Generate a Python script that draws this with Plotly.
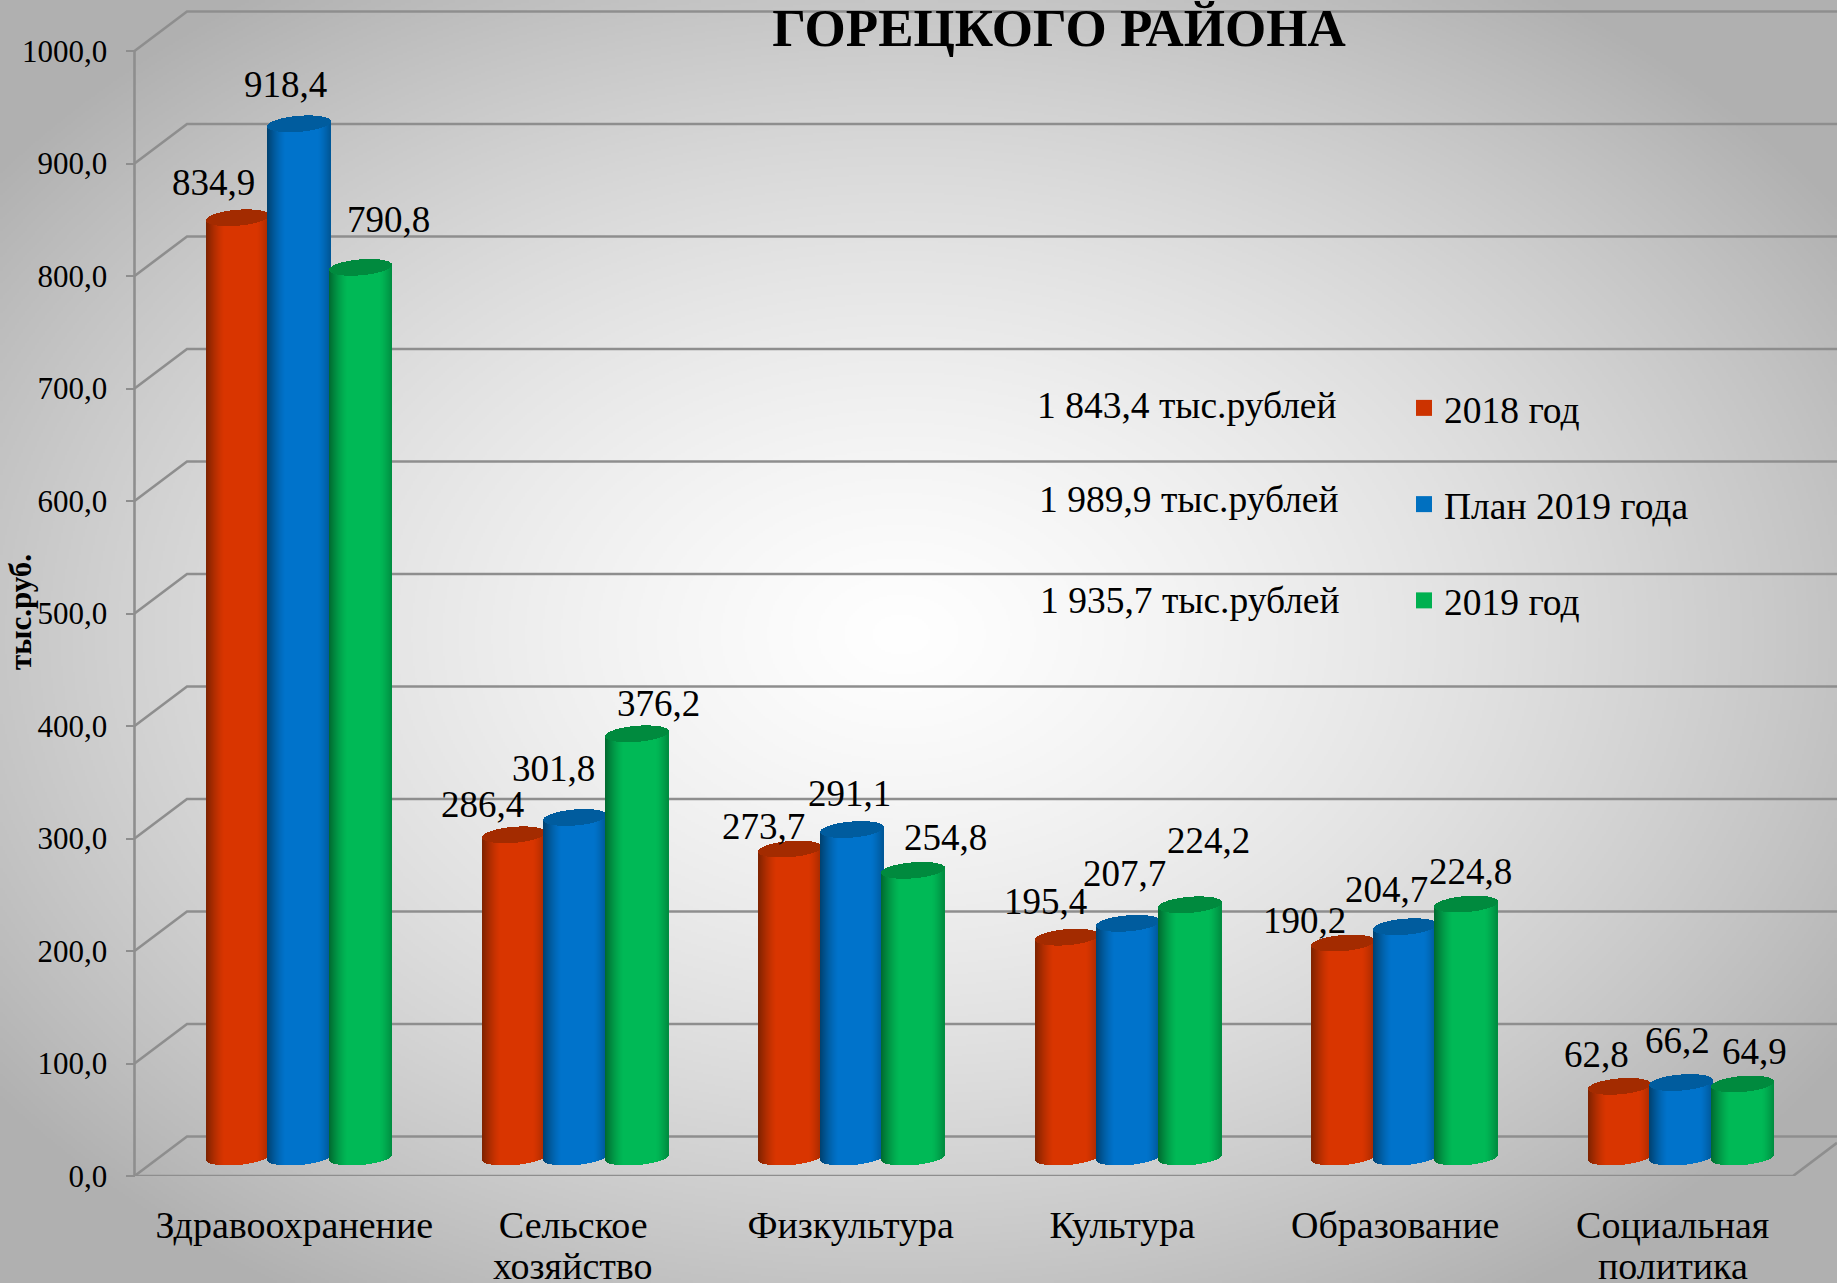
import base64, struct, zlib
import numpy as np
import plotly.graph_objects as go

# ---------- data ----------
CATEGORIES = ["Здравоохранение", "Сельское", "Физкультура", "Культура", "Образование", "Социальная"]
CATEGORY_SECOND_LINES = ["", "хозяйство", "", "", "", "политика"]
SERIES_NAMES = ["2018 год", "План 2019 года", "2019 год"]
VALUES_2018 = [834.9, 286.4, 273.7, 195.4, 190.2, 62.8]
VALUES_PLAN = [918.4, 301.8, 291.1, 207.7, 204.7, 66.2]
VALUES_2019 = [790.8, 376.2, 254.8, 224.2, 224.8, 64.9]
TOTALS = ["1 843,4 тыс.рублей", "1 989,9 тыс.рублей", "1 935,7 тыс.рублей"]
TICK_VALUES = [0, 100, 200, 300, 400, 500, 600, 700, 800, 900, 1000]
TICK_LABELS = ["0,0", "100,0", "200,0", "300,0", "400,0", "500,0", "600,0", "700,0", "800,0", "900,0", "1000,0"]
TITLE = "ГОРЕЦКОГО РАЙОНА"
Y_TITLE = "тыс.руб."

# ---------- styles / layout constants ----------
W, H = 1837, 1283
FONT = "Liberation Serif"
MAIN = ["#D93500", "#0073CB", "#00B956"]
EDGE = ["#7C2200", "#00406E", "#00682F"]
CAP = ["#A32B00", "#005C9E", "#008A3E"]
LEGEND_COL = ["#CC3300", "#0070C0", "#00B050"]
GRID = "#8E8E8E"
PX_PER_UNIT = 1.125
FLOOR_PX = 1176
GROUP0_PX, GROUP_STEP_PX = 299.0, 276.4
BAR_W_PX, BAR_STEP_PX = 63.0, 61.5
AXIS_X_PX, DEPTH_X, DEPTH_Y, FRONT_END_PX = 134.5, 52.5, 39.5, 1793
PLANE_SHIFT_PX = 19.0
NSTRIP = 63
LABEL_SIZE, TICK_SIZE, CAT_SIZE, NOTE_SIZE = 37, 31, 38, 37.5
# centre of every value label, in page pixels
LABEL_PX = [
    [(213, 182), (285, 84), (388, 219)],
    [(482, 804), (553, 769), (658, 703)],
    [(763, 826), (849, 794), (945, 837)],
    [(1045, 901), (1124, 873), (1208, 840)],
    [(1304, 920), (1386, 890), (1470, 871)],
    [(1596, 1054), (1677, 1040), (1754, 1051)],
]
TOTAL_PX = [(1187, 405), (1189, 500), (1190, 600)]
CAT_TICKS = [-0.017, -0.008, -0.004, -0.021, -0.034, -0.03]
SECOND_LINE_Y_PX = 1266


def background():
    w, h = W // 2, H // 2
    yy, xx = np.mgrid[0:h, 0:w]
    r = np.hypot((xx * 2 - 900) / 918.0, (yy * 2 - 633) / 641.0)
    g = np.clip(255 - 30 * r - 28 * r ** 2, 176, 255).astype(np.uint8)
    raw = b"".join(b"\x00" + g[i].tobytes() for i in range(h))

    def chunk(t, d):
        return struct.pack(">I", len(d)) + t + d + struct.pack(">I", zlib.crc32(t + d))

    png = b"\x89PNG\r\n\x1a\n" + chunk(b"IHDR", struct.pack(">IIBBBBB", w, h, 8, 0, 0, 0, 0)) + \
        chunk(b"IDAT", zlib.compress(raw, 9)) + chunk(b"IEND", b"")
    return "data:image/png;base64," + base64.b64encode(png).decode()


def mix(a, b, s):
    ca = [int(a[i:i + 2], 16) for i in (1, 3, 5)]
    cb = [int(b[i:i + 2], 16) for i in (1, 3, 5)]
    return "rgb(%d,%d,%d)" % tuple(round(x + (y - x) * s) for x, y in zip(ca, cb))


fig = go.Figure()
xpos = list(range(len(CATEGORIES)))
unit = 1.0 / GROUP_STEP_PX
SERIES = [VALUES_2018, VALUES_PLAN, VALUES_2019]

for s, vals in enumerate(SERIES):
    centre = (s - 1) * BAR_STEP_PX * unit
    v = np.array(vals)
    # plain bar carrying the value itself; the cylinder shading is laid over it
    inner = BAR_W_PX - 10
    fig.add_bar(x=xpos, y=vals, name=SERIES_NAMES[s], width=inner * unit, offset=centre - inner * unit / 2,
                marker=dict(color=MAIN[s], line_width=0), yaxis="y2", showlegend=False,
                hovertemplate="%{y}<extra>" + SERIES_NAMES[s] + "</extra>")
    ts = -1 + (2 * np.arange(NSTRIP) + 1) / NSTRIP
    for layer in ("body", "cap"):
        for t in ts:
            c = np.sqrt(1 - t ** 2)
            tilt = 2.5 * t / PX_PER_UNIT
            off = centre + t * BAR_W_PX / 2 * unit - BAR_W_PX / NSTRIP * unit / 2
            if layer == "body":
                base = np.full(v.shape, (-0.5 + 2.5 * t - 7.5 * c) / PX_PER_UNIT)
                top = v + tilt
                shade = max(0.0, (abs(t - 0.1) - 0.5) / 0.6) ** 1.4
                col = mix(MAIN[s], EDGE[s], min(shade, 1))
            else:
                base = v + tilt - 8 * c / PX_PER_UNIT
                top = v + tilt + 8 * c / PX_PER_UNIT
                col = CAP[s]
            fig.add_bar(x=xpos, y=(top - base).tolist(), base=base.tolist(), width=BAR_W_PX / NSTRIP * unit, offset=off,
                        marker=dict(color=col, line_width=0), yaxis="y2", showlegend=False, hoverinfo="skip")

# legend entries
for s, name in enumerate(SERIES_NAMES):
    fig.add_scatter(x=[-50], y=[-50], mode="markers", name=name, legendgroup=name,
                    marker=dict(symbol="square", size=20, color=LEGEND_COL[s]), hoverinfo="skip")

# perspective grid
shapes = []
xp = lambda px: px / W
dunit = DEPTH_Y / PX_PER_UNIT
for tv in TICK_VALUES:
    path = "M %.5f,%.3f L %.5f,%.3f L 1.0,%.3f" % (xp(AXIS_X_PX), tv, xp(AXIS_X_PX + DEPTH_X), tv + dunit, tv + dunit)
    shapes.append(dict(type="path", path=path, xref="paper", yref="y", layer="below", line=dict(color=GRID, width=2.6)))
shapes.append(dict(type="line", xref="paper", yref="y", x0=xp(AXIS_X_PX), x1=xp(AXIS_X_PX), y0=0, y1=1000,
                   layer="below", line=dict(color=GRID, width=2.6)))
shapes.append(dict(type="path", xref="paper", yref="y", layer="below", line=dict(color=GRID, width=2.6),
                   path="M %.5f,0 L %.5f,0 L 1.0,%.3f" % (xp(AXIS_X_PX), xp(FRONT_END_PX),
                                                          (W - FRONT_END_PX) / DEPTH_X * dunit)))

# labels
ann = []
for i in xpos:
    for s, vals in enumerate(SERIES):
        cx = GROUP0_PX + i * GROUP_STEP_PX + (s - 1) * BAR_STEP_PX
        top = FLOOR_PX - PLANE_SHIFT_PX - vals[i] * PX_PER_UNIT
        lx, ly = LABEL_PX[i][s]
        ann.append(dict(x=i + (s - 1) * BAR_STEP_PX * unit, y=vals[i], xref="x", yref="y2", xshift=lx - cx, yshift=top - ly,
                        text=f"{vals[i]:.1f}".replace(".", ","), showarrow=False, xanchor="center", yanchor="middle",
                        font=dict(family=FONT, size=LABEL_SIZE, color="black")))
    if CATEGORY_SECOND_LINES[i]:
        ann.append(dict(x=i + CAT_TICKS[i], y=1 - SECOND_LINE_Y_PX / FLOOR_PX, xref="x", yref="paper", text=CATEGORY_SECOND_LINES[i],
                        showarrow=False, xanchor="center", yanchor="middle", font=dict(family=FONT, size=CAT_SIZE, color="black")))
for (tx, ty), txt in zip(TOTAL_PX, TOTALS):
    ann.append(dict(x=tx / W, y=1 - ty / FLOOR_PX, xref="paper", yref="paper", yanchor="middle", xanchor="center", text=txt,
                    showarrow=False, font=dict(family=FONT, size=NOTE_SIZE, color="black")))
ann.append(dict(x=20 / W, y=1 - 612 / FLOOR_PX, xref="paper", yref="paper", text="<b>" + Y_TITLE + "</b>", textangle=-90,
                showarrow=False, xanchor="center", yanchor="middle", font=dict(family=FONT, size=31, color="black")))

ytop = FLOOR_PX / PX_PER_UNIT
fig.update_layout(
    width=W, height=H, autosize=False,
    margin=dict(l=0, r=0, t=0, b=H - FLOOR_PX, pad=0),
    paper_bgcolor="#C8C8C8", plot_bgcolor="rgba(0,0,0,0)",
    barmode="overlay", bargap=0, shapes=shapes, annotations=ann,
    title=dict(text="<b>" + TITLE + "</b>", x=1059 / W, xanchor="center", xref="paper", y=1 - 27 / H, yanchor="middle", yref="container",
               font=dict(family=FONT, size=53, color="black")),
    font=dict(family=FONT, color="black"),
    images=[dict(source=background(), xref="paper", yref="paper", x=0, y=1, sizex=1, sizey=H / FLOOR_PX, sizing="stretch",
                 xanchor="left", yanchor="top", layer="below")],
    xaxis=dict(range=[(0 - GROUP0_PX) / GROUP_STEP_PX, (W - GROUP0_PX) / GROUP_STEP_PX], domain=[0, 1],
               tickvals=[i + d for i, d in zip(xpos, CAT_TICKS)], ticktext=CATEGORIES, ticks="", showgrid=False, zeroline=False,
               showline=False, tickangle=0, tickfont=dict(family=FONT, size=CAT_SIZE, color="black"), ticklabelstandoff=23,
               fixedrange=True, automargin=False),
    yaxis=dict(range=[0, ytop], domain=[0, 1], anchor="free", position=AXIS_X_PX / W, tickvals=TICK_VALUES, ticktext=TICK_LABELS,
               ticks="outside", ticklen=9, tickwidth=2.4, tickcolor=GRID, showgrid=False, zeroline=False, showline=False,
               tickfont=dict(family=FONT, size=TICK_SIZE, color="black"), ticklabelstandoff=12, fixedrange=True, automargin=False),
    yaxis2=dict(range=[-PLANE_SHIFT_PX / PX_PER_UNIT, ytop - PLANE_SHIFT_PX / PX_PER_UNIT], domain=[0, 1], overlaying="y", side="left",
                anchor="x", visible=False, fixedrange=True),
    showlegend=True,
    legend=dict(x=1404 / W, y=1 - 377 / FLOOR_PX, xanchor="left", yanchor="top", bgcolor="rgba(0,0,0,0)", borderwidth=0,
                tracegroupgap=44.5, itemsizing="trace", font=dict(family=FONT, size=NOTE_SIZE, color="black")),
)
fig.write_html("out.html", post_script="document.body.style.margin='0';document.body.style.overflow='hidden';",
               config={"displayModeBar": False})
